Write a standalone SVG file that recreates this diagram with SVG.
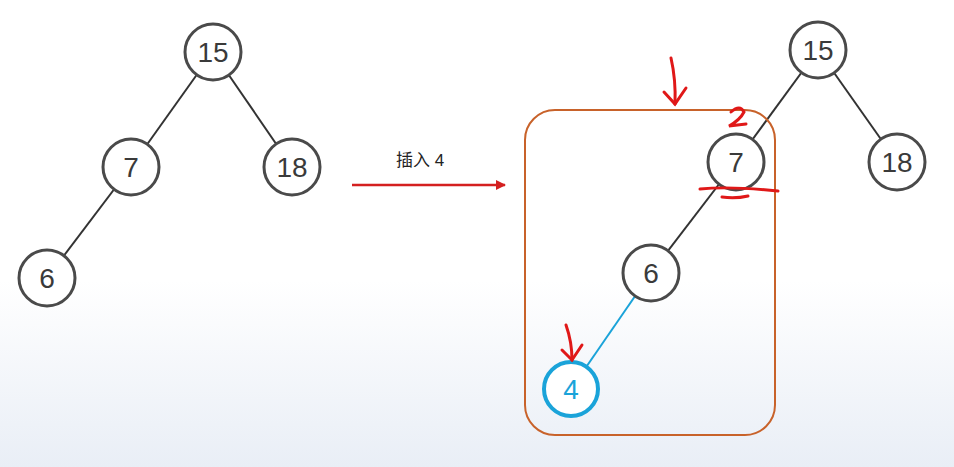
<svg xmlns="http://www.w3.org/2000/svg" width="954" height="467" viewBox="0 0 954 467">
<defs>
<linearGradient id="bg" x1="0" y1="0" x2="0" y2="1"><stop offset="0.6" stop-color="#ffffff"/><stop offset="1" stop-color="#e9eef6"/></linearGradient>
<marker id="ah" markerWidth="10" markerHeight="10" refX="9" refY="5" orient="auto" markerUnits="userSpaceOnUse"><path d="M0,0 L10,5 L0,10 Z" fill="#d42020"/></marker>
<style>
.n circle{fill:#fff;stroke:#4a4a4a;stroke-width:3}
.n text{font-family:"Liberation Sans",Arial,sans-serif;font-size:28px;fill:#3a3a3a;text-anchor:middle;dominant-baseline:central}
.e{stroke:#333;stroke-width:2;fill:none}
.r{stroke:#e01818;stroke-width:3;fill:none;stroke-linecap:round}
</style>
</defs>
<rect width="954" height="467" fill="url(#bg)"/>
<g id="connectors">
<line class="e" x1="213" y1="52" x2="131" y2="167"/>
<line class="e" x1="213" y1="52" x2="292" y2="167"/>
<line class="e" x1="131" y1="167" x2="47" y2="278"/>
<line class="e" x1="818" y1="50" x2="736" y2="162"/>
<line class="e" x1="818" y1="50" x2="897" y2="162"/>
<line class="e" x1="736" y1="162" x2="651" y2="273"/>
<line x1="651" y1="273" x2="571" y2="389" stroke="#1aa3d9" stroke-width="2"/>
<line x1="352" y1="185" x2="505" y2="185" stroke="#d42020" stroke-width="2.5" marker-end="url(#ah)"/>
</g>
<text x="420" y="166" font-family="Liberation Sans,Noto Sans CJK SC,sans-serif" font-size="17" fill="#222" text-anchor="middle">插入 4</text>
<rect x="525" y="110" width="250" height="325" rx="30" fill="none" stroke="#c8622a" stroke-width="2"/>
<g id="n15"  class="n"><circle cx="213" cy="52" r="28"/><text x="213" y="52">15</text></g>
<g id="n7" class="n"><circle cx="131" cy="167" r="28"/><text x="131" y="167">7</text></g>
<g id="n18" class="n"><circle cx="292" cy="167" r="28"/><text x="292" y="167">18</text></g>
<g id="n6" class="n"><circle cx="47" cy="278" r="28"/><text x="47" y="278">6</text></g>
<g id="m15" class="n"><circle cx="818" cy="50" r="28"/><text x="818" y="50">15</text></g>
<g id="m7" class="n"><circle cx="736" cy="162" r="28"/><text x="736" y="162">7</text></g>
<g id="m18" class="n"><circle cx="897" cy="162" r="28"/><text x="897" y="162">18</text></g>
<g id="m6" class="n"><circle cx="651" cy="273" r="28"/><text x="651" y="273">6</text></g>
<g id="m4" class="n"><circle cx="571" cy="389" r="27" style="stroke:#1aa3d9;stroke-width:4"/><text x="571" y="389" style="fill:#1aa3d9">4</text></g>
<g id="annotations">
<path class="r" d="M671,58 Q676,80 675,104"/>
<path class="r" d="M664,92 L675,104 L686,88"/>
<path class="r" d="M731,112 Q740,104 744,112 Q740,120 729,126 L746,124"/>
<path class="r" d="M700,189 Q730,186 778,191"/>
<path class="r" d="M722,197 Q735,199 748,196"/>
<path class="r" d="M566,325 Q572,342 572,360"/>
<path class="r" d="M562,350 L572,360 L582,345"/>
</g>
</svg>
